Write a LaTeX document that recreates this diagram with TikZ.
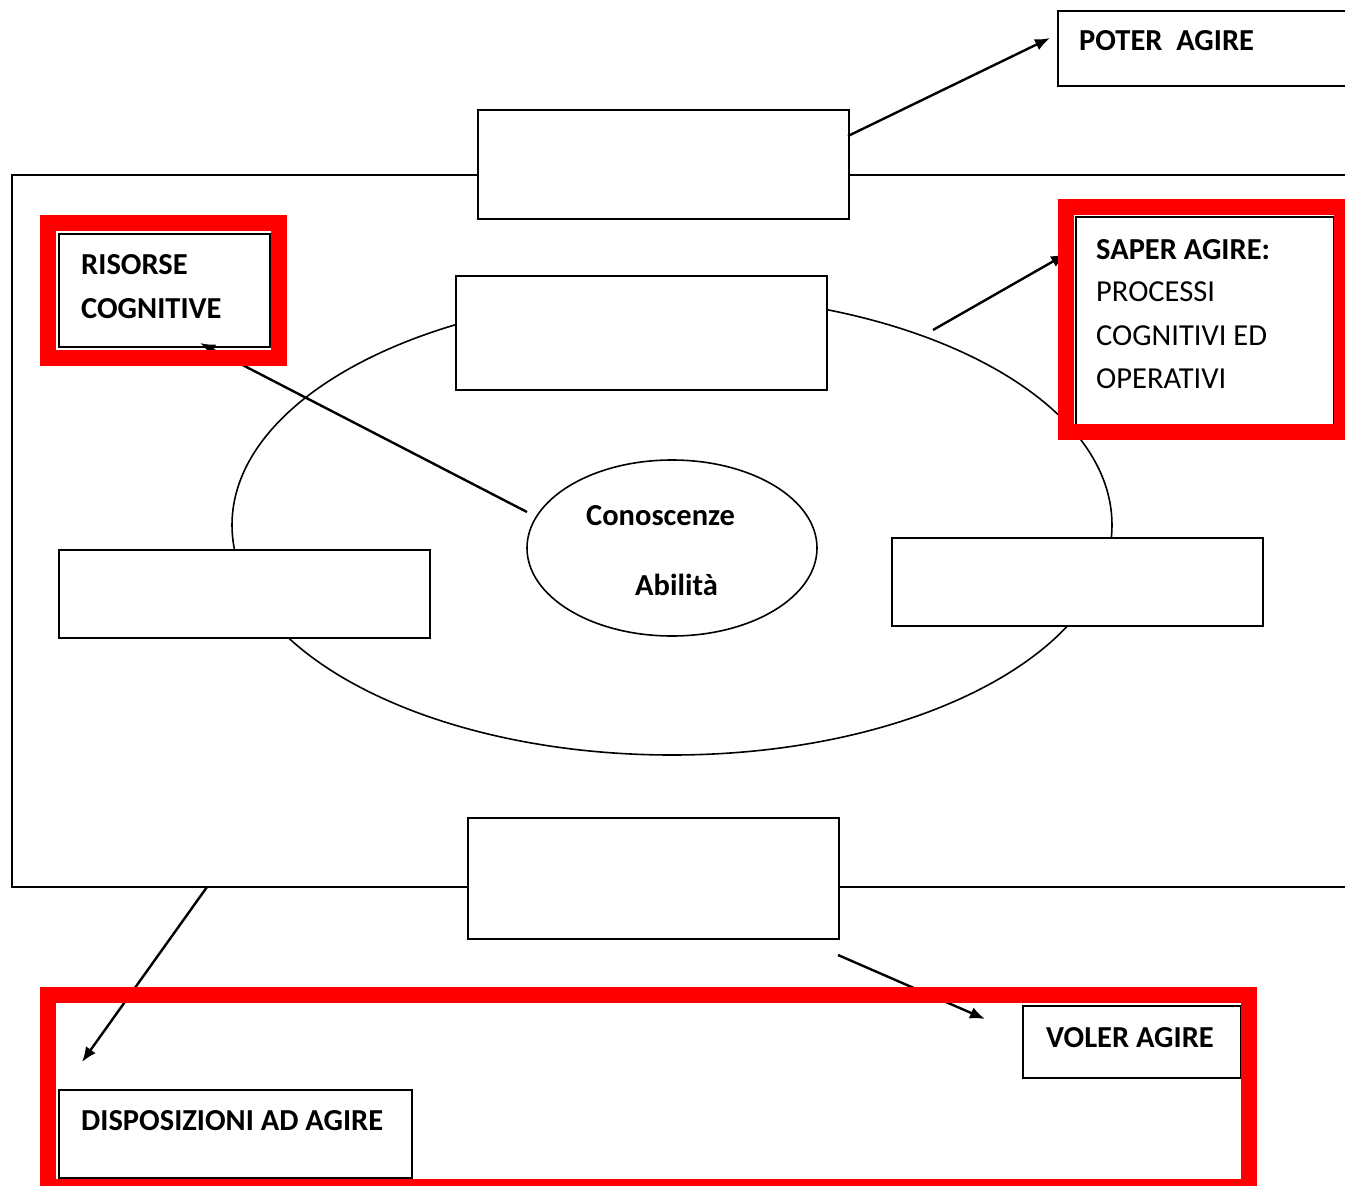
\documentclass[tikz,border=0pt]{standalone}
\usepackage{fontspec}
\setmainfont{Carlito}
\usetikzlibrary{arrows.meta,shapes.geometric}
\tikzset{
  box/.style={draw, line width=2pt, fill=white, rectangle, anchor=north west, inner sep=0pt},
  oval/.style={draw, line width=1.6pt, ellipse, inner sep=0pt},
  redframe/.style={draw=red, line width=16pt},
  arr/.style={line width=2.4pt, -{Latex[length=15pt,width=12pt]}},
  lbl/.style={anchor=base west, inner sep=0pt, font=\fontsize{30.5}{36}\selectfont\bfseries},
  lblr/.style={anchor=base west, inner sep=0pt, font=\fontsize{30.5}{36}\selectfont},
}
\begin{document}
\begin{tikzpicture}[x=1pt,y=-1pt]
\useasboundingbox (0,0) rectangle (1345,1186);
\fill[white] (0,0) rectangle (1345,1186);
\begin{scope}
\clip (0,0) rectangle (1345,1186);
% outer frame
\draw[line width=2pt] (1360,175) -- (12,175) -- (12,887) -- (1360,887);
% ellipses
\node[oval, minimum width=880pt, minimum height=460pt] (big) at (672,525) {};
\node[oval, minimum width=290pt, minimum height=176pt] (small) at (672,548) {};
% boxes
\node[box, minimum width=371pt, minimum height=109pt] (top) at (477,109) {};
\node[box, minimum width=300pt, minimum height=75pt] (poter) at (1057,10) {};
\node[box, minimum width=371pt, minimum height=114pt] (mid) at (455,275) {};
\node[box, minimum width=371pt, minimum height=88pt] (left) at (58,549) {};
\node[box, minimum width=371pt, minimum height=88pt] (right) at (891,537) {};
\node[box, minimum width=371pt, minimum height=121pt] (bottom) at (467,817) {};
\node[box, minimum width=211pt, minimum height=113pt] (risorse) at (58,233) {};
\node[box, minimum width=258pt, minimum height=208pt] (saper) at (1075,216) {};
\node[box, minimum width=218pt, minimum height=72pt] (voler) at (1022,1005) {};
\node[box, minimum width=353pt, minimum height=88pt] (dispo) at (58,1089) {};
% connector endpoints
\coordinate (a1s) at (848,136);
\coordinate (a1e) at (1050,38);
\coordinate (a2s) at (933,330);
\coordinate (a2e) at (1066,254);
\coordinate (a3s) at (527,512);
\coordinate (a3e) at (200,343);
\coordinate (a4s) at (207,887);
\coordinate (a4e) at (82,1062);
\coordinate (a5s) at (838,955);
\coordinate (a5e) at (985,1019);
\draw[arr] (a1s) -- (a1e);
\draw[arr] (a2s) -- (a2e);
\draw[arr] (a3s) -- (a3e);
\draw[arr] (a4s) -- (a4e);
\draw[arr] (a5s) -- (a5e);
% red frames
\draw[redframe] (48,223) rectangle (279,358);
\draw[redframe] (1066,207) rectangle (1342,432);
\draw[redframe] (48,995) rectangle (1249,1187);
% texts
\node[lbl] (t1) at (1079,50) {POTER\ \ AGIRE};
\node[lbl] (t2) at (81,274) {RISORSE};
\node[lbl] (t3) at (81,318) {COGNITIVE};
\node[lbl] (t4) at (1096,259) {SAPER AGIRE:};
\node[lblr] (t5) at (1096,301) {PROCESSI};
\node[lblr] (t6) at (1096,345) {COGNITIVI ED};
\node[lblr] (t7) at (1096,388) {OPERATIVI};
\node[lbl] (t8) at (586,525) {Conoscenze};
\node[lbl] (t9) at (635,595) {Abilità};
\node[lbl] (t10) at (1046,1047) {VOLER AGIRE};
\node[lbl] (t11) at (81,1130) {DISPOSIZIONI AD AGIRE};
\end{scope}
\end{tikzpicture}
\end{document}
